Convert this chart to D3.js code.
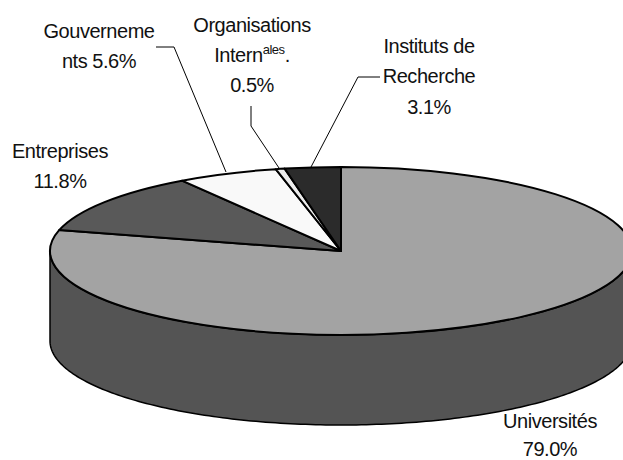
<!DOCTYPE html>
<html>
<head>
<meta charset="utf-8">
<script src="https://cdn.jsdelivr.net/npm/d3@7"></script>
<style>
html, body { margin: 0; padding: 0; background: #fff; overflow: hidden; }
text { font-family: "Liberation Sans", Arial, sans-serif; font-size: 20px; fill: #111; text-anchor: middle; letter-spacing: -0.46px; }
</style>
</head>
<body>
<div id="chart-area"></div>
<script>
// shares in %, clockwise from 12 o'clock
var categories = ["Universités", "Entreprises", "Gouvernements", "Organisations", "Instituts"];
var shares = [79.0, 11.8, 5.6, 0.5, 3.1];
var shareLabels = ["79.0%", "11.8%", "5.6%", "0.5%", "3.1%"];

var width = 623, height = 460;
var cx = 341, cy = 251, rx = 291, ry = 84, depth = 90;
var colors = ["#a3a3a3", "#595959", "#f9f9f9", "#ececec", "#2b2b2b"];

var svg = d3.select("#chart-area").append("svg")
  .attr("width", width)
  .attr("height", height)
  .style("display", "block");

var pie = d3.pie().sort(null).value((d) => { return d; });
var arcs = pie(shares);

// side wall: front half of the ellipse, pushed down by depth
var angles = d3.range(90, 270.5, 1).map((a) => { return a * Math.PI / 180; });
var side = d3.area()
  .x((a) => { return cx + rx * Math.sin(a); })
  .y0((a) => { return cy - ry * Math.cos(a); })
  .y1((a) => { return cy - ry * Math.cos(a) + depth; });
svg.append("path")
  .attr("d", side(angles))
  .attr("fill", "#545454")
  .attr("stroke", "#000")
  .attr("stroke-width", 1.5);

// top face, circle squashed into an ellipse
var arc = d3.arc().innerRadius(0).outerRadius(rx);
svg.append("g")
  .attr("transform", "translate(" + cx + "," + cy + ") scale(1," + (ry / rx) + ")")
  .selectAll("path").data(arcs).enter().append("path")
  .attr("d", arc)
  .attr("fill", (d, i) => { return colors[i]; })
  .attr("stroke", "#000")
  .attr("stroke-width", 2)
  .attr("stroke-linejoin", "round")
  .attr("vector-effect", "non-scaling-stroke");

// leader lines
var leaders = [
  [[156, 47], [174, 47], [226, 172]],
  [[251, 106], [251, 126], [279, 168]],
  [[380, 77], [358, 77], [311, 167]]
];
var line = d3.line();
svg.selectAll(".leader").data(leaders).enter().append("path")
  .attr("class", "leader")
  .attr("d", line)
  .attr("fill", "none")
  .attr("stroke", "#000")
  .attr("stroke-width", 1);

function label(x, y, str) {
  return svg.append("text").attr("x", x).attr("y", y).text(str);
}

label(99, 38, "Gouverneme");
label(99, 68, "nts " + shareLabels[2]);
label(60, 158, "Entreprises");
label(60, 188, shareLabels[1]);
label(252, 32, "Organisations");
var intern = svg.append("text").attr("x", 252).attr("y", 62);
intern.append("tspan").text("Intern");
intern.append("tspan").attr("dy", -8).style("font-size", "13px").text("ales");
intern.append("tspan").attr("dy", 8).text(".");
label(252, 92, shareLabels[3]);
label(429, 53, "Instituts de");
label(429, 83, "Recherche");
label(429, 114, shareLabels[4]);
label(550, 428, "Universités");
label(550, 455.5, shareLabels[0]);
</script>
</body>
</html>
